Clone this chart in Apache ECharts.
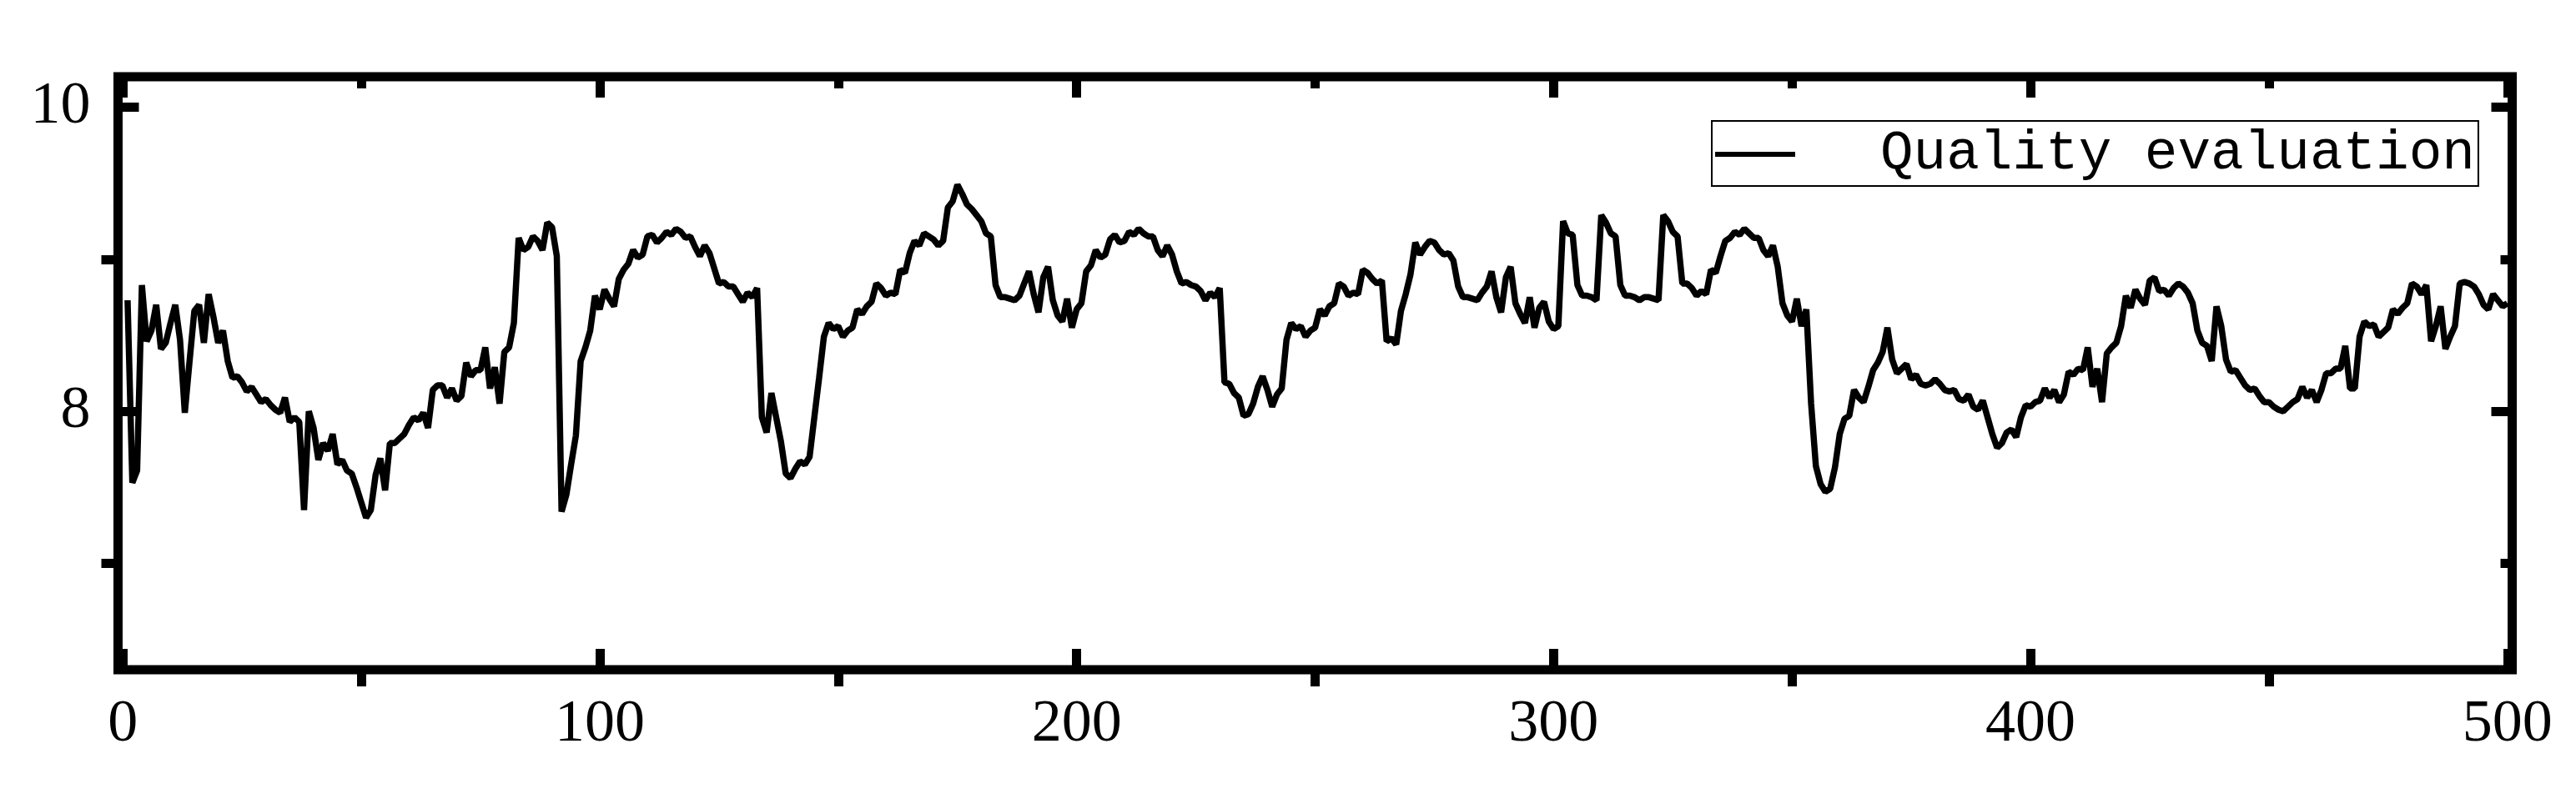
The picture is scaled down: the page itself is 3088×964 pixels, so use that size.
<!DOCTYPE html>
<html>
<head>
<meta charset="utf-8">
<title>Quality evaluation</title>
<script src="https://cdn.jsdelivr.net/npm/echarts@6/dist/echarts.min.js"></script>
<style>
  html, body { margin: 0; padding: 0; background: #fff; }
  #chart { width: 3088px; height: 964px; }
</style>
</head>
<body>
<div id="chart"></div>
<script>
// values, sample 1..500, split in chunks of 100
const seg1 = [8.73, 7.53, 7.61, 8.83, 8.46, 8.53, 8.70, 8.41, 8.45, 8.58,
  8.70, 8.47, 7.99, 8.33, 8.66, 8.70, 8.45, 8.77, 8.62, 8.45,
  8.53, 8.33, 8.22, 8.23, 8.19, 8.13, 8.16, 8.11, 8.06, 8.08,
  8.04, 8.01, 7.99, 8.09, 7.93, 7.96, 7.93, 7.35, 8.00, 7.89,
  7.68, 7.79, 7.74, 7.85, 7.65, 7.68, 7.61, 7.59, 7.50, 7.40,
  7.30, 7.35, 7.58, 7.69, 7.48, 7.79, 7.79, 7.82, 7.85, 7.91,
  7.96, 7.94, 7.99, 7.89, 8.14, 8.17, 8.17, 8.09, 8.15, 8.07,
  8.10, 8.32, 8.23, 8.27, 8.27, 8.42, 8.15, 8.29, 8.05, 8.39,
  8.42, 8.58, 9.14, 9.06, 9.08, 9.15, 9.12, 9.06, 9.24, 9.21,
  9.02, 7.34, 7.45, 7.65, 7.84, 8.33, 8.42, 8.53, 8.76, 8.67]
const seg2 = [8.80, 8.74, 8.69, 8.87, 8.93, 8.97, 9.06, 9.01, 9.03, 9.15,
  9.16, 9.11, 9.14, 9.18, 9.16, 9.20, 9.18, 9.14, 9.15, 9.08,
  9.02, 9.09, 9.04, 8.94, 8.84, 8.85, 8.82, 8.82, 8.77, 8.72,
  8.78, 8.75, 8.81, 7.96, 7.86, 8.12, 7.96, 7.80, 7.59, 7.56,
  7.62, 7.67, 7.65, 7.70, 7.96, 8.22, 8.49, 8.58, 8.54, 8.56,
  8.49, 8.53, 8.55, 8.67, 8.64, 8.69, 8.72, 8.84, 8.81, 8.76,
  8.78, 8.77, 8.93, 8.91, 9.04, 9.12, 9.09, 9.17, 9.15, 9.13,
  9.09, 9.12, 9.34, 9.38, 9.49, 9.43, 9.36, 9.33, 9.29, 9.25,
  9.17, 9.15, 8.83, 8.75, 8.75, 8.74, 8.73, 8.76, 8.84, 8.92,
  8.77, 8.65, 8.88, 8.95, 8.73, 8.63, 8.59, 8.74, 8.55, 8.67]
const seg3 = [8.71, 8.92, 8.96, 9.06, 9.01, 9.03, 9.13, 9.16, 9.11, 9.12,
  9.18, 9.16, 9.20, 9.17, 9.15, 9.15, 9.06, 9.02, 9.09, 9.03,
  8.92, 8.84, 8.85, 8.83, 8.82, 8.79, 8.73, 8.78, 8.75, 8.81,
  8.19, 8.18, 8.12, 8.09, 7.97, 7.98, 8.05, 8.16, 8.23, 8.14,
  8.03, 8.11, 8.15, 8.47, 8.58, 8.54, 8.56, 8.49, 8.53, 8.55,
  8.67, 8.63, 8.69, 8.71, 8.84, 8.82, 8.76, 8.78, 8.77, 8.93,
  8.91, 8.87, 8.84, 8.86, 8.46, 8.48, 8.44, 8.66, 8.77, 8.90,
  9.11, 9.03, 9.08, 9.12, 9.11, 9.06, 9.03, 9.04, 8.99, 8.82,
  8.75, 8.75, 8.74, 8.73, 8.78, 8.82, 8.92, 8.75, 8.65, 8.88,
  8.95, 8.71, 8.64, 8.58, 8.75, 8.55, 8.68, 8.72, 8.59, 8.54]
const seg4 = [8.56, 9.25, 9.17, 9.16, 8.83, 8.76, 8.76, 8.75, 8.73, 9.29,
  9.24, 9.17, 9.15, 8.83, 8.76, 8.76, 8.75, 8.73, 8.75, 8.75,
  8.74, 8.73, 9.29, 9.25, 9.18, 9.15, 8.84, 8.84, 8.81, 8.76,
  8.79, 8.77, 8.93, 8.91, 9.02, 9.12, 9.14, 9.18, 9.16, 9.20,
  9.17, 9.14, 9.14, 9.06, 9.02, 9.09, 8.95, 8.71, 8.63, 8.59,
  8.74, 8.56, 8.67, 8.05, 7.64, 7.52, 7.47, 7.49, 7.63, 7.85,
  7.95, 7.97, 8.14, 8.09, 8.06, 8.16, 8.27, 8.32, 8.39, 8.55,
  8.34, 8.25, 8.28, 8.31, 8.21, 8.24, 8.18, 8.17, 8.18, 8.21,
  8.18, 8.14, 8.13, 8.14, 8.08, 8.07, 8.11, 8.03, 8.01, 8.07,
  7.96, 7.85, 7.76, 7.79, 7.86, 7.88, 7.83, 7.96, 8.04, 8.03]
const seg5 = [8.06, 8.07, 8.15, 8.09, 8.14, 8.06, 8.11, 8.26, 8.24, 8.28,
  8.27, 8.42, 8.16, 8.28, 8.06, 8.38, 8.42, 8.45, 8.56, 8.76,
  8.68, 8.80, 8.74, 8.70, 8.86, 8.88, 8.79, 8.80, 8.76, 8.81,
  8.84, 8.82, 8.78, 8.71, 8.53, 8.45, 8.43, 8.33, 8.69, 8.56,
  8.34, 8.26, 8.27, 8.22, 8.17, 8.14, 8.15, 8.10, 8.06, 8.06,
  8.03, 8.01, 8.00, 8.03, 8.06, 8.08, 8.16, 8.09, 8.14, 8.06,
  8.14, 8.25, 8.25, 8.28, 8.28, 8.43, 8.15, 8.15, 8.49, 8.59,
  8.56, 8.57, 8.49, 8.52, 8.55, 8.67, 8.64, 8.68, 8.71, 8.84,
  8.82, 8.77, 8.83, 8.46, 8.56, 8.69, 8.41, 8.49, 8.56, 8.84,
  8.85, 8.84, 8.82, 8.77, 8.70, 8.67, 8.77, 8.73, 8.69, 8.71]

const quality = seg1.concat(seg2, seg3, seg4, seg5)

// tick positions
const xMajor = [0, 100, 200, 300, 400, 500]
const xMinor = [50, 150, 250, 350, 450]
const yMajor = [8, 10]
const yMinor = [7, 9]

const chart = echarts.init(document.getElementById('chart'))

const tickStyle = { color: '#000', width: 11 }

// one helper per direction so the four sides and the minor ticks stay consistent
// onZero off, otherwise the y axes all sit on x = 0 (the left edge)
function xAxisOf(pos, values, inside, len, labels) {
  return {
    type: 'value', position: pos, min: -1, max: 501,
    axisLine: { show: false, onZero: false },
    splitLine: { show: false },
    axisTick: { show: true, inside: inside, length: len, customValues: values, lineStyle: tickStyle },
    axisLabel: {
      show: true, customValues: values, margin: 30,
      formatter: labels ? '{value}' : () => '',
      color: '#000', fontFamily: 'Liberation Serif', fontSize: 72
    }
  }
}
function yAxisOf(pos, values, inside, len, labels) {
  return {
    type: 'value', position: pos, min: 6.3, max: 10.2,
    axisLine: { show: false, onZero: false },
    splitLine: { show: false },
    axisTick: { show: true, inside: inside, length: len, customValues: values, lineStyle: tickStyle },
    axisLabel: {
      show: true, customValues: values, margin: 33,
      formatter: labels ? '{value}' : () => '',
      color: '#000', fontFamily: 'Liberation Serif', fontSize: 72
    }
  }
}

chart.setOption({
  animation: false,
  backgroundColor: '#fff',
  grid: {
    left: 141.5, right: 76.5, top: 92, bottom: 161,
    show: true, borderColor: '#000', borderWidth: 11, backgroundColor: 'transparent'
  },
  legend: {
    left: 2052, top: 145,
    padding: [7, 4, 5, 4],
    icon: 'rect',
    itemWidth: 96, itemHeight: 6,
    borderColor: '#000', borderWidth: 2,
    textStyle: {
      color: '#000', fontFamily: 'Liberation Mono', fontSize: 66, lineHeight: 66,
      padding: [0, 0, 0, 97]
    },
    data: ['Quality evaluation']
  },
  xAxis: [
    xAxisOf('bottom', xMajor, true, 25, true),
    xAxisOf('top', xMajor, true, 25, false),
    xAxisOf('bottom', xMinor, false, 20, false),
    xAxisOf('top', xMinor, true, 14, false)
  ],
  yAxis: [
    yAxisOf('left', yMajor, true, 25, true),
    yAxisOf('right', yMajor, true, 25, false),
    yAxisOf('left', yMinor, false, 20, false),
    yAxisOf('right', yMinor, true, 14, false)
  ],
  series: [{
    name: 'Quality evaluation',
    type: 'line',
    xAxisIndex: 0,
    yAxisIndex: 0,
    symbol: 'none',
    lineStyle: { color: '#000', width: 7.5 },
    itemStyle: { color: '#000' },
    data: quality.map((v, i) => [i + 1, v])
  }]
})
</script>
</body>
</html>
